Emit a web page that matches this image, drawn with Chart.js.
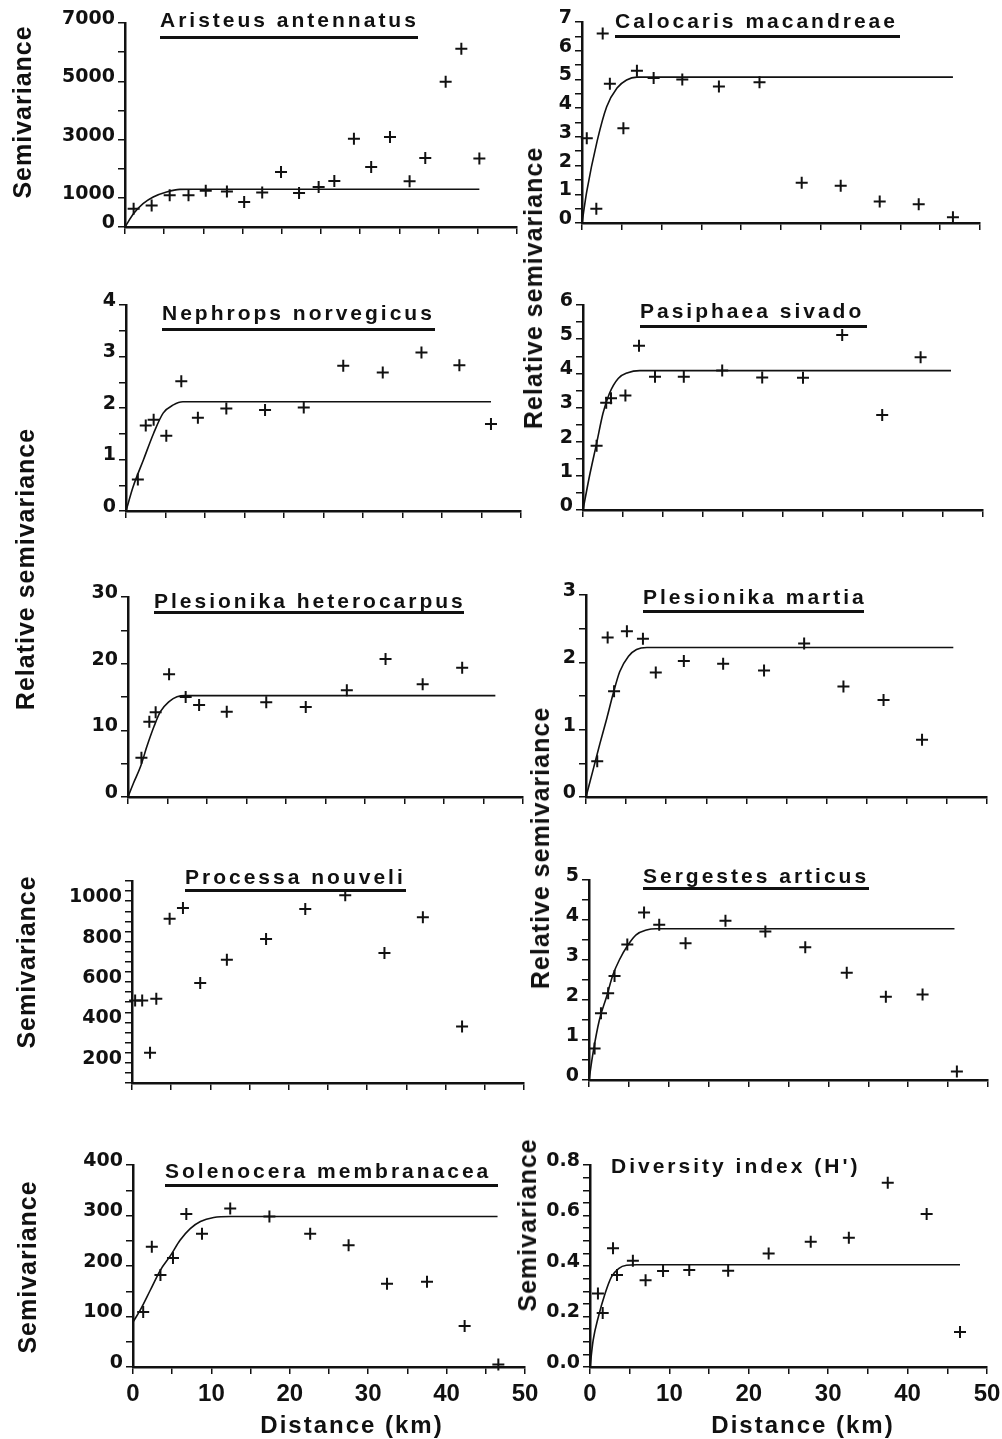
<!DOCTYPE html>
<html>
<head>
<meta charset="utf-8">
<script src="https://cdn.jsdelivr.net/npm/chart.js@4.4.0/dist/chart.umd.min.js"></script>
<style>
  body { margin: 0; background: #fff; }
  #page { position: relative; width: 1002px; height: 1439px; overflow: hidden; background: #fff; }
  #page canvas { position: absolute; }
  .titre { position: absolute; font: bold 21px "Liberation Sans", Arial, sans-serif; letter-spacing: 3px;
           white-space: nowrap; color: #111; line-height: 24px; }
  .trait { position: absolute; height: 3px; background: #111; }
  .axe { position: absolute; font: bold 25px "Liberation Sans", Arial, sans-serif; letter-spacing: 1px;
         white-space: nowrap; color: #111; line-height: 26px; transform: translate(-50%, -50%) rotate(-90deg); }
  .dist { position: absolute; font: bold 24px "Liberation Sans", Arial, sans-serif; letter-spacing: 2px;
          white-space: nowrap; color: #111; line-height: 26px; transform: translate(-50%, -50%); }
</style>
</head>
<body>
<div id="page"></div>
<script>
// ---- données (distance en km, semivariance) ----
const ticksDistance = ['0', '10', '20', '30', '40', '50'];

const distAristeus = [1.1, 3.4, 5.7, 8.1, 10.3, 13.0, 15.2, 17.5, 19.9, 22.2, 24.7, 26.7, 29.2, 31.4, 33.8, 36.3, 38.3, 40.9, 42.9, 45.2];
const semiAristeus = [630, 740, 1090, 1090, 1240, 1220, 860, 1180, 1890, 1170, 1370, 1580, 3030, 2060, 3090, 1570, 2370, 4980, 6120, 2350];
const modDistAristeus = [0, 1.1, 2.3, 3.6, 5.3, 7.0, 8.7, 45.2];
const modSemiAristeus = [0, 460, 800, 1030, 1200, 1290, 1295, 1295];
const ticksAristeus = ['0', '1000', '3000', '5000', '7000'];

const distCalocaris = [0.6, 1.8, 2.6, 3.5, 5.2, 6.9, 9.0, 12.6, 17.2, 22.3, 27.6, 32.5, 37.4, 42.3, 46.6];
const semiCalocaris = [2.95, 0.5, 6.6, 4.85, 3.3, 5.3, 5.05, 5.0, 4.75, 4.9, 1.4, 1.3, 0.75, 0.65, 0.2];
const modDistCalocaris = [0, 0.6, 1.9, 3.1, 4.4, 5.6, 6.9, 46.6];
const modSemiCalocaris = [0, 1.1, 2.85, 4.05, 4.7, 4.98, 5.08, 5.08];
const ticksCalocaris = ['0', '1', '2', '3', '4', '5', '6', '7'];

const distNephrops = [1.5, 2.5, 3.5, 5.1, 7.0, 9.1, 12.7, 17.6, 22.5, 27.5, 32.5, 37.4, 42.2, 46.2];
const semiNephrops = [0.61, 1.66, 1.77, 1.46, 2.52, 1.81, 1.99, 1.96, 2.01, 2.82, 2.69, 3.08, 2.83, 1.69];
const modDistNephrops = [0, 0.9, 2.2, 3.5, 4.7, 6.0, 7.2, 46.2];
const modSemiNephrops = [0, 0.47, 0.99, 1.51, 1.9, 2.06, 2.12, 2.12];
const ticksNephrops = ['0', '1', '2', '3', '4'];

const distPasiphaea = [1.7, 2.9, 3.5, 5.3, 7.0, 9.0, 12.6, 17.4, 22.4, 27.5, 32.4, 37.4, 42.2];
const semiPasiphaea = [1.88, 3.14, 3.27, 3.35, 4.81, 3.9, 3.9, 4.08, 3.88, 3.87, 5.12, 2.78, 4.47];
const modDistPasiphaea = [0, 0.8, 1.7, 2.5, 3.3, 4.4, 5.6, 7.1, 46.0];
const modSemiPasiphaea = [0, 0.98, 1.95, 2.83, 3.41, 3.85, 4.02, 4.08, 4.08];
const ticksPasiphaea = ['0', '1', '2', '3', '4', '5', '6'];

const distHetero = [1.7, 2.7, 3.5, 5.2, 7.3, 9.0, 12.5, 17.5, 22.5, 27.7, 32.6, 37.3, 42.3];
const semiHetero = [5.9, 11.3, 12.7, 18.4, 15.0, 13.8, 12.8, 14.2, 13.5, 16.0, 20.7, 16.9, 19.4];
const modDistHetero = [0, 0.7, 1.6, 2.4, 3.3, 4.1, 5.2, 6.2, 7.3, 46.5];
const modSemiHetero = [0, 2.1, 4.6, 7.6, 10.6, 12.8, 14.3, 15.05, 15.2, 15.2];
const ticksHetero = ['0', '10', '20', '30'];

const distMartia = [1.4, 2.7, 3.5, 5.1, 7.1, 8.7, 12.2, 17.1, 22.2, 27.2, 32.1, 37.1, 41.9];
const semiMartia = [0.53, 2.37, 1.57, 2.46, 2.35, 1.85, 2.02, 1.98, 1.88, 2.28, 1.64, 1.44, 0.85];
const modDistMartia = [0, 0.9, 1.75, 2.6, 3.4, 4.2, 5.3, 6.3, 7.6, 45.8];
const modSemiMartia = [0, 0.41, 0.8, 1.17, 1.54, 1.86, 2.09, 2.19, 2.22, 2.22];
const ticksMartia = ['0', '1', '2', '3'];

const distProcessa = [0.4, 1.3, 2.3, 3.1, 4.8, 6.5, 8.7, 12.1, 17.1, 22.1, 27.2, 32.2, 37.1, 42.1];
const semiProcessa = [508, 508, 250, 517, 913, 966, 595, 710, 813, 961, 1029, 743, 920, 380];
const ticksProcessa = ['200', '400', '600', '800', '1000'];

const distSergestes = [0.7, 1.5, 2.4, 3.2, 4.8, 6.9, 8.8, 12.1, 17.1, 22.1, 27.1, 32.3, 37.2, 41.8, 46.1];
const semiSergestes = [0.79, 1.67, 2.17, 2.6, 3.39, 4.19, 3.88, 3.42, 3.98, 3.71, 3.32, 2.68, 2.08, 2.14, 0.21];
const modDistSergestes = [0, 0.5, 1.3, 2.2, 3.0, 3.8, 4.9, 5.9, 7.2, 8.4, 45.8];
const modSemiSergestes = [0, 0.67, 1.5, 2.08, 2.63, 3.0, 3.38, 3.63, 3.75, 3.78, 3.78];
const ticksSergestes = ['0', '1', '2', '3', '4', '5'];

const distSolenocera = [1.3, 2.4, 3.5, 5.1, 6.8, 8.8, 12.4, 17.4, 22.6, 27.5, 32.4, 37.5, 42.3, 46.6];
const semiSolenocera = [109, 238, 182, 216, 303, 264, 314, 298, 264, 241, 165, 169, 81, 5];
const modDistSolenocera = [0, 0.9, 2.2, 3.5, 4.8, 6.0, 7.3, 8.6, 10.3, 12.4, 46.5];
const modSemiSolenocera = [89, 112, 152, 192, 221, 251, 274, 288, 296, 298, 298];
const ticksSolenocera = ['0', '100', '200', '300', '400'];

const distDiversite = [1.0, 1.6, 2.9, 3.4, 5.4, 7.0, 9.2, 12.5, 17.4, 22.5, 27.8, 32.6, 37.5, 42.4, 46.6];
const semiDiversite = [0.291, 0.214, 0.47, 0.364, 0.421, 0.344, 0.38, 0.384, 0.381, 0.45, 0.496, 0.512, 0.73, 0.606, 0.139];
const modDistDiversite = [0, 0.4, 1.05, 1.9, 2.7, 3.6, 4.6, 5.9, 46.6];
const modSemiDiversite = [0, 0.106, 0.198, 0.291, 0.357, 0.39, 0.403, 0.405, 0.405];
const ticksDiversite = ['0.0', '0.2', '0.4', '0.6', '0.8'];

// ---- mise en page : un graphique par espèce ----
const panneaux = [
  { titre: 'Aristeus antennatus', x: distAristeus, y: semiAristeus, mx: modDistAristeus, my: modSemiAristeus,
    ticks: ticksAristeus, yMin: 0, yMax: 7000, pas: 1000,
    cadre: { x0: 125, x50: 517, yHaut: 23, yBas: 227 }, posTitre: [160, 20, 418, 37] },
  { titre: 'Calocaris macandreae', x: distCalocaris, y: semiCalocaris, mx: modDistCalocaris, my: modSemiCalocaris,
    ticks: ticksCalocaris, yMin: 0, yMax: 7, pas: 0.5,
    cadre: { x0: 582, x50: 980, yHaut: 22, yBas: 223 }, posTitre: [615, 21, 900, 36] },
  { titre: 'Nephrops norvegicus', x: distNephrops, y: semiNephrops, mx: modDistNephrops, my: modSemiNephrops,
    ticks: ticksNephrops, yMin: 0, yMax: 4, pas: 0.5,
    cadre: { x0: 126, x50: 521, yHaut: 305, yBas: 511 }, posTitre: [162, 313, 435, 329] },
  { titre: 'Pasiphaea sivado', x: distPasiphaea, y: semiPasiphaea, mx: modDistPasiphaea, my: modSemiPasiphaea,
    ticks: ticksPasiphaea, yMin: 0, yMax: 6, pas: 0.5,
    cadre: { x0: 583, x50: 983, yHaut: 305, yBas: 510 }, posTitre: [640, 311, 867, 326] },
  { titre: 'Plesionika heterocarpus', x: distHetero, y: semiHetero, mx: modDistHetero, my: modSemiHetero,
    ticks: ticksHetero, yMin: 0, yMax: 30, pas: 5,
    cadre: { x0: 128, x50: 523, yHaut: 597, yBas: 797 }, posTitre: [154, 601, 464, 612] },
  { titre: 'Plesionika martia', x: distMartia, y: semiMartia, mx: modDistMartia, my: modSemiMartia,
    ticks: ticksMartia, yMin: 0, yMax: 3, pas: 0.5,
    cadre: { x0: 586, x50: 987, yHaut: 595, yBas: 797 }, posTitre: [643, 597, 864, 611] },
  { titre: 'Processa nouveli', x: distProcessa, y: semiProcessa, mx: null, my: null,
    ticks: ticksProcessa, yMin: 100, yMax: 1100, pas: 50,
    cadre: { x0: 132, x50: 524, yHaut: 881, yBas: 1083 }, posTitre: [185, 877, 406, 890] },
  { titre: 'Sergestes articus', x: distSergestes, y: semiSergestes, mx: modDistSergestes, my: modSemiSergestes,
    ticks: ticksSergestes, yMin: 0, yMax: 5, pas: 0.5,
    cadre: { x0: 589, x50: 988, yHaut: 880, yBas: 1080 }, posTitre: [643, 876, 869, 888] },
  { titre: 'Solenocera membranacea', x: distSolenocera, y: semiSolenocera, mx: modDistSolenocera, my: modSemiSolenocera,
    ticks: ticksSolenocera, yMin: 0, yMax: 400, pas: 50, basLabels: true,
    cadre: { x0: 133, x50: 525, yHaut: 1165, yBas: 1367 }, posTitre: [165, 1171, 498, 1185] },
  { titre: "Diversity index (H')", x: distDiversite, y: semiDiversite, mx: modDistDiversite, my: modSemiDiversite,
    ticks: ticksDiversite, yMin: 0, yMax: 0.8, pas: 0.05, basLabels: true, sansTrait: true,
    cadre: { x0: 590, x50: 987, yHaut: 1165, yBas: 1367 }, posTitre: [611, 1166, 0, 0] }
];

// titres des axes (texte, x, y, vertical ?)
const titresAxes = [
  ['Semivariance', 22, 112, true],
  ['Relative semivariance', 25, 569, true],
  ['Semivariance', 26, 962, true],
  ['Semivariance', 27, 1267, true],
  ['Relative semivariance', 533, 288, true],
  ['Relative semivariance', 540, 848, true],
  ['Semivariance', 527, 1225, true],
  ['Distance (km)', 352, 1425, false],
  ['Distance (km)', 803, 1425, false]
];

const page = document.getElementById('page');
const encre = '#111';

// renvoie le libellé correspondant à la valeur, sinon une chaîne vide
function libelle(v, liste) {
  const trouve = liste.find(t => Math.abs(parseFloat(t) - v) < 1e-6);
  return trouve === undefined ? '' : trouve;
}

function creerPanneau(p) {
  const gauche = 90, haut = 18, droite = 18;
  const basAxe = p.basLabels ? 48 : 14;
  const w = (p.cadre.x50 - p.cadre.x0) + gauche + droite;
  const h = (p.cadre.yBas - p.cadre.yHaut) + haut + basAxe;

  const canvas = document.createElement('canvas');
  canvas.width = w;
  canvas.height = h;
  canvas.style.left = (p.cadre.x0 - gauche) + 'px';
  canvas.style.top = (p.cadre.yHaut - haut) + 'px';
  canvas.style.width = w + 'px';
  canvas.style.height = h + 'px';
  page.appendChild(canvas);

  const points = p.x.map((d, i) => ({ x: d, y: p.y[i] }));
  const datasets = [{
    data: points,
    pointStyle: 'cross',
    pointRadius: 6,
    pointBorderWidth: 2,
    borderColor: encre,
    backgroundColor: encre,
    showLine: false,
    clip: false
  }];
  if (p.mx) {
    datasets.push({
      data: p.mx.map((d, i) => ({ x: d, y: p.my[i] })),
      showLine: true,
      pointRadius: 0,
      borderColor: encre,
      borderWidth: 1.6,
      cubicInterpolationMode: 'monotone',
      fill: false,
      clip: false
    });
  }

  new Chart(canvas, {
    type: 'scatter',
    data: { datasets: datasets },
    options: {
      responsive: false,
      animation: false,
      devicePixelRatio: 1,
      events: [],
      layout: { padding: { left: 0, top: haut, right: droite, bottom: 0 } },
      plugins: { legend: { display: false }, tooltip: { enabled: false } },
      scales: {
        x: {
          type: 'linear', min: 0, max: 50,
          border: { color: encre, width: 2.5 },
          grid: { drawOnChartArea: false, color: encre, tickLength: 7, lineWidth: 1.5 },
          ticks: {
            stepSize: 5, autoSkip: false, maxRotation: 0, padding: 6, color: encre,
            font: { family: '"Liberation Sans Narrow", "Liberation Sans", sans-serif', weight: 'bold', size: 24 },
            callback: v => p.basLabels ? libelle(v, ticksDistance) : ''
          },
          afterFit: s => { s.height = basAxe; s.paddingLeft = 0; s.paddingRight = 0; }
        },
        y: {
          type: 'linear', min: p.yMin, max: p.yMax,
          border: { color: encre, width: 2.5 },
          grid: { drawOnChartArea: false, color: encre, tickLength: 7, lineWidth: 1.5 },
          ticks: {
            stepSize: p.pas, autoSkip: false, padding: 3, labelOffset: -4, color: encre,
            font: { family: '"DejaVu Sans", sans-serif', weight: 'bold', size: 19 },
            callback: v => libelle(v, p.ticks)
          },
          afterFit: s => { s.width = gauche; s.paddingTop = 0; s.paddingBottom = 0; }
        }
      }
    }
  });

  // titre souligné de l'espèce
  const t = document.createElement('div');
  t.className = 'titre';
  t.textContent = p.titre;
  t.style.left = p.posTitre[0] + 'px';
  t.style.top = (p.posTitre[1] - 12) + 'px';
  page.appendChild(t);
  if (!p.sansTrait) {
    const trait = document.createElement('div');
    trait.className = 'trait';
    trait.style.left = p.posTitre[0] + 'px';
    trait.style.width = (p.posTitre[2] - p.posTitre[0]) + 'px';
    trait.style.top = (p.posTitre[3] - 1) + 'px';
    page.appendChild(trait);
  }
}

panneaux.forEach(creerPanneau);

titresAxes.forEach(a => {
  const d = document.createElement('div');
  d.className = a[3] ? 'axe' : 'dist';
  d.textContent = a[0];
  d.style.left = a[1] + 'px';
  d.style.top = a[2] + 'px';
  page.appendChild(d);
});
</script>
</body>
</html>
